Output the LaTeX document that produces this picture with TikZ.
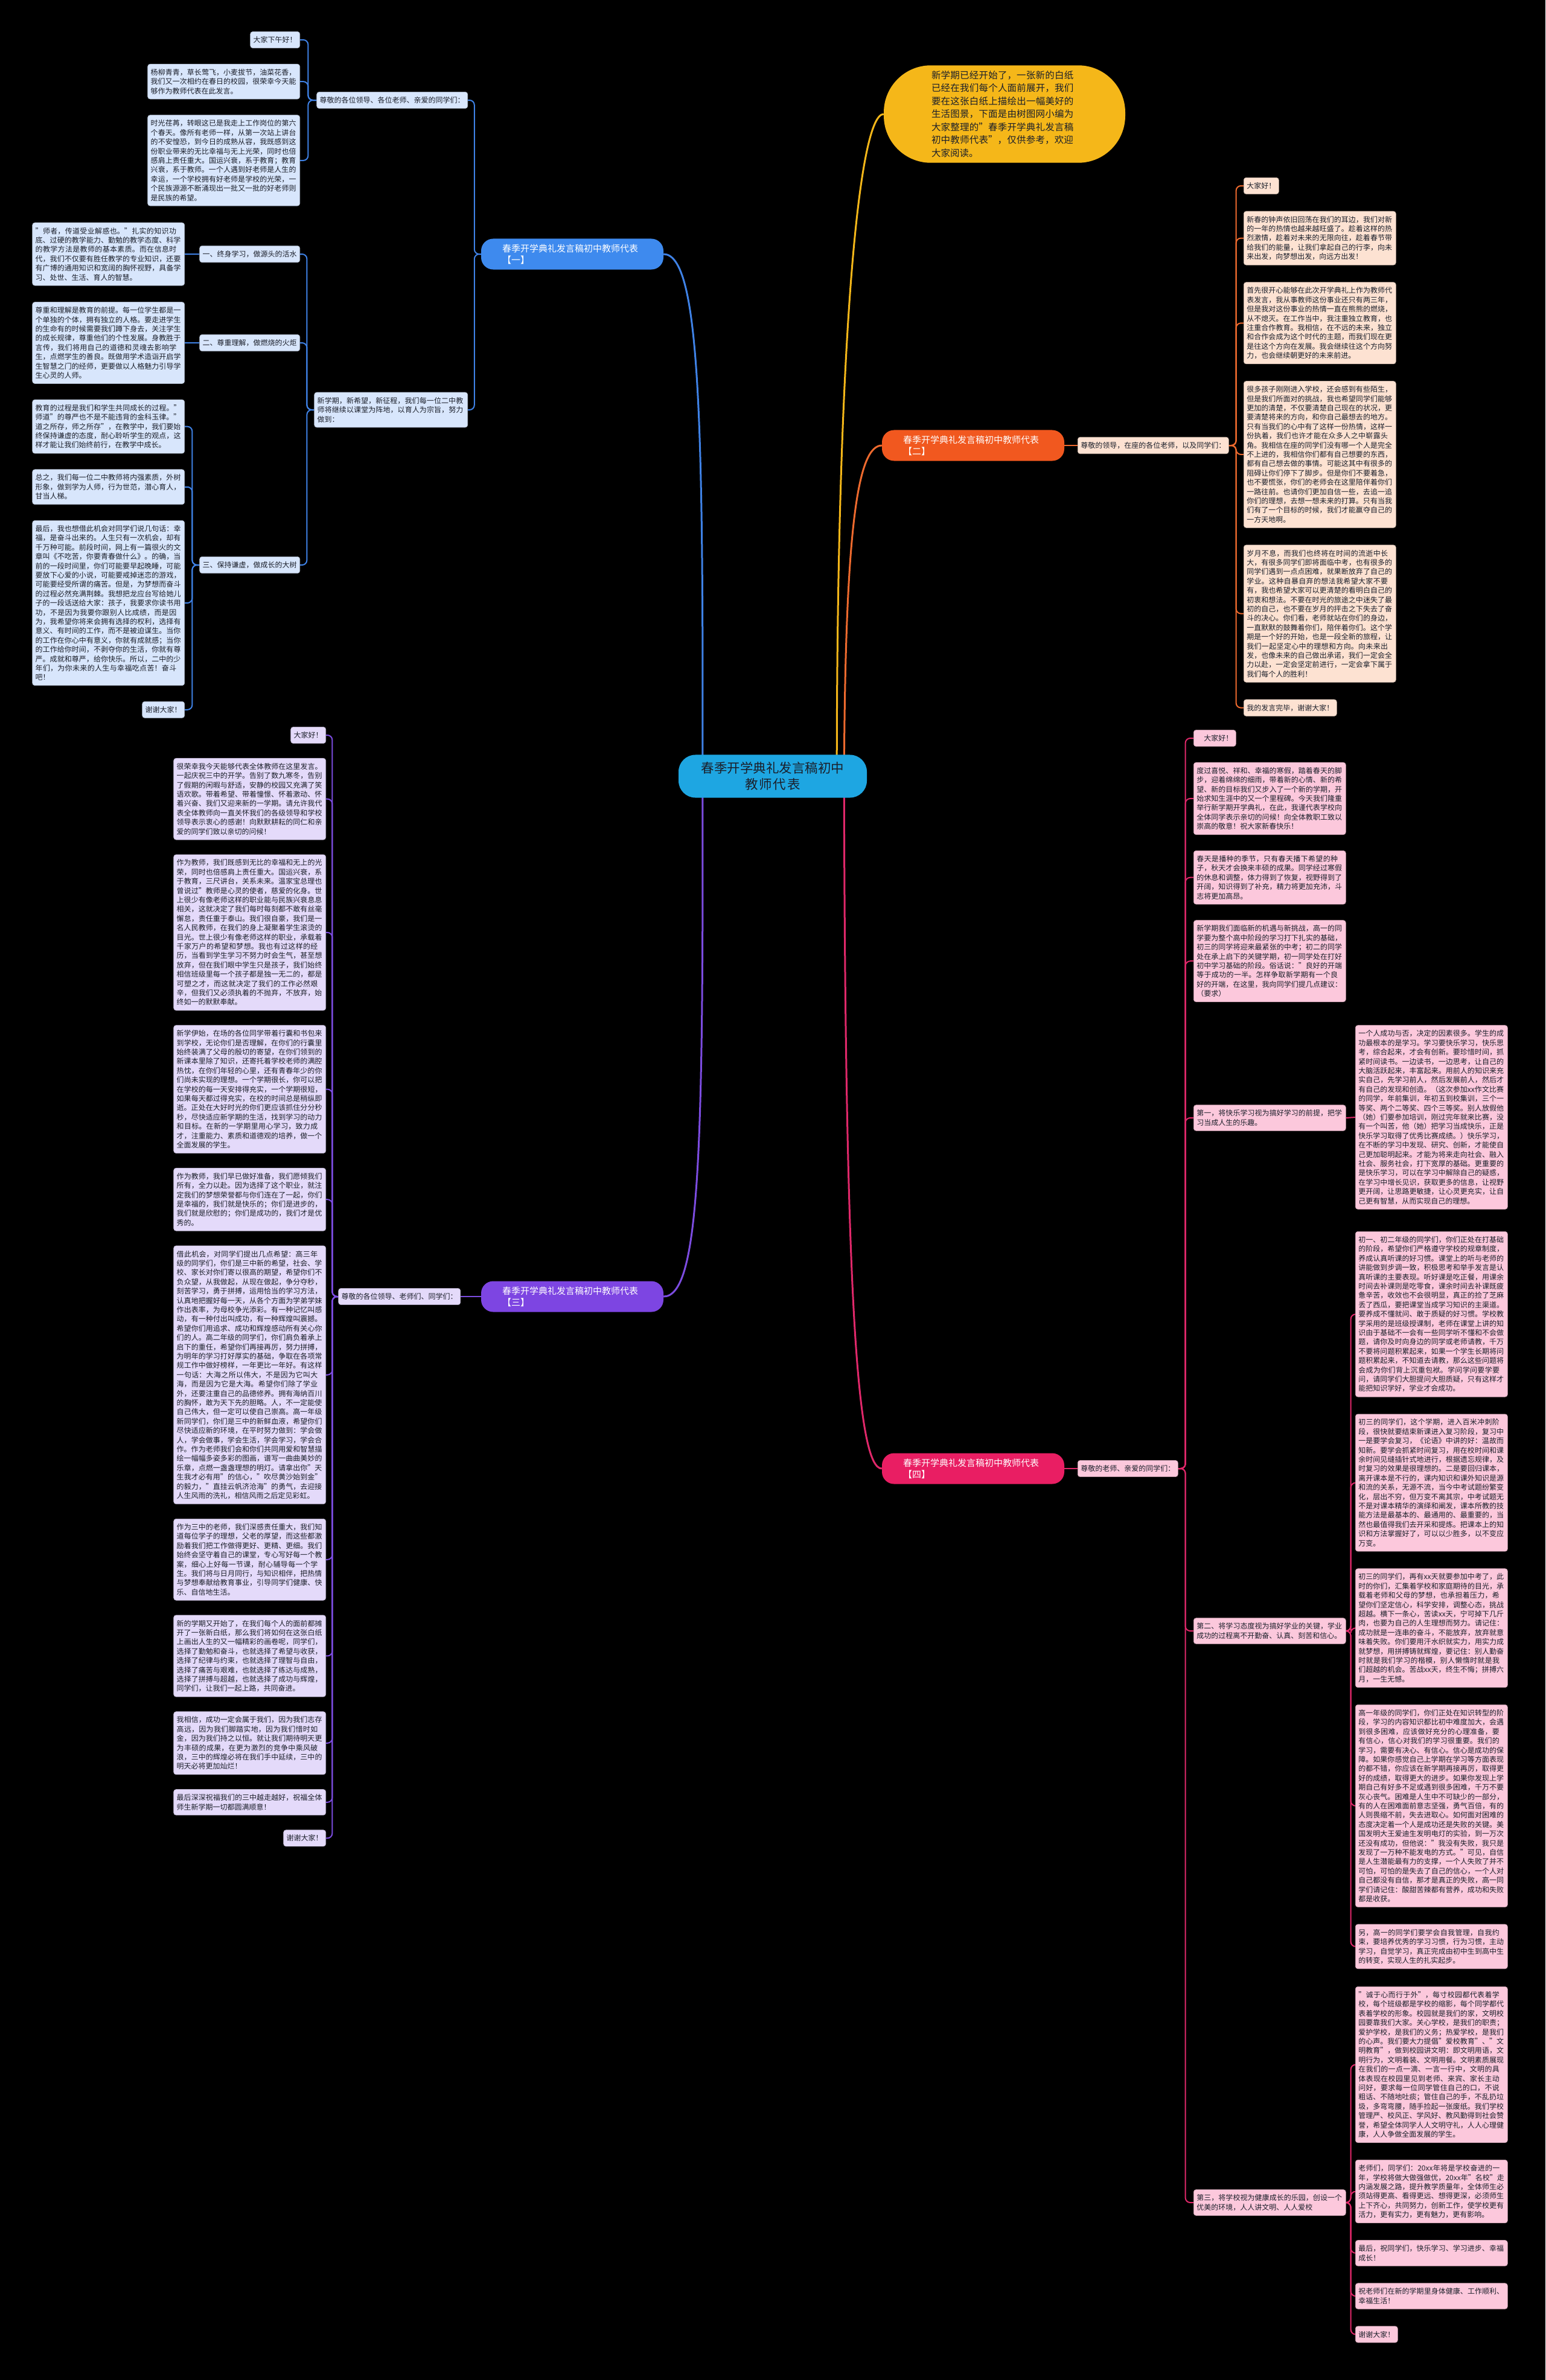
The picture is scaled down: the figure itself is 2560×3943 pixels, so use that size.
\documentclass[tikz,border=0pt]{standalone}
\usepackage{fontspec}
\setmainfont{Noto Sans CJK SC}
\XeTeXlinebreaklocale "zh"
\XeTeXlinebreakskip=0pt plus 1pt
\usetikzlibrary{positioning,calc,backgrounds}
\definecolor{hubCyan}{HTML}{1EA6E2}
\definecolor{sunGold}{HTML}{F5B719}
\definecolor{inkDark}{HTML}{1B1F2A}
\definecolor{blueMain}{HTML}{3E8AEE}
\definecolor{blueLine}{HTML}{3F82E6}
\definecolor{blueCard}{HTML}{D8E6FC}
\definecolor{orangeMain}{HTML}{F1581F}
\definecolor{orangeLine}{HTML}{EE6A2E}
\definecolor{orangeCard}{HTML}{FDE2D2}
\definecolor{purpleMain}{HTML}{7D45E2}
\definecolor{purpleLine}{HTML}{7C4CE0}
\definecolor{purpleCard}{HTML}{E4DAFA}
\definecolor{pinkMain}{HTML}{E91E63}
\definecolor{pinkLine}{HTML}{E0286A}
\definecolor{pinkCard}{HTML}{FCC8DC}

\begin{document}
\begin{tikzpicture}[
    x=1pt, y=-1pt,
    hub/.style={rectangle,rounded corners=28pt,fill=hubCyan,text=inkDark,align=center,
        text width=240pt,inner xsep=36pt,inner ysep=12pt,font=\fontsize{21.5}{27}\selectfont},
    intro/.style={rectangle,rounded corners=78pt,fill=sunGold,text=inkDark,align=left,
        text width=242pt,inner xsep=79pt,inner ysep=9pt,font=\fontsize{15.5}{21.5}\selectfont},
    topic/.style={rectangle,rounded corners=20pt,text=white,align=left,
        text width=232pt,inner xsep=35pt,inner ysep=9pt,font=\fontsize{15}{19}\selectfont},
    card/.style={rectangle,rounded corners=4pt,text=inkDark,align=left,line width=0.6pt,
        inner xsep=5pt,inner ysep=8pt,font=\fontsize{12}{15.4}\selectfont},
    para/.style={card,text width=242pt},
    bluecard/.style={fill=blueCard,draw=blueCard!80!black},
    orangecard/.style={fill=orangeCard,draw=orangeCard!80!black},
    purplecard/.style={fill=purpleCard,draw=purpleCard!80!black},
    pinkcard/.style={fill=pinkCard,draw=pinkCard!80!black},
    branch/.style={line width=3pt},
    link/.style={line width=2pt,rounded corners=8pt}
]
\useasboundingbox (0,0) rectangle (2560,3943);

% centre and intro
\node[hub] (hub) at (1280,1286) {春季开学典礼发言稿初中\\教师代表};
\node[intro] (intro) at (1664,189) {新学期已经开始了，一张新的白纸已经在我们每个人面前展开，我们要在这张白纸上描绘出一幅美好的生活图景，下面是由树图网小编为大家整理的"春季开学典礼发言稿初中教师代表"，仅供参考，欢迎大家阅读。};

% Branch one
\node[topic,fill=blueMain] (t1) at (948,421) {春季开学典礼发言稿初中教师代表\\【一】};
\node[card,bluecard,anchor=east] (a1) at (775,166) {尊敬的各位领导、各位老师、亲爱的同学们：};
\node[card,bluecard,anchor=east] (hi1) at (497,66) {大家下午好！};
\node[para,bluecard,below=26pt of hi1.south east,anchor=north east] (p11) {杨柳青青，草长莺飞，小麦拔节，油菜花香，我们又一次相约在春日的校园，很荣幸今天能够作为教师代表在此发言。};
\node[para,bluecard,below=26pt of p11.south east,anchor=north east] (p12) {时光荏苒，转眼这已是我走上工作岗位的第六个春天。像所有老师一样，从第一次站上讲台的不安惶恐，到今日的成熟从容，我既感到这份职业带来的无比幸福与无上光荣，同时也倍感肩上责任重大。国运兴衰，系于教育；教育兴衰，系于教师。一个人遇到好老师是人生的幸运，一个学校拥有好老师是学校的光荣，一个民族源源不断涌现出一批又一批的好老师则是民族的希望。};
\node[card,bluecard,anchor=east,text width=244pt] (a2) at (775,679) {新学期，新希望，新征程，我们每一位二中教师将继续以课堂为阵地，以育人为宗旨，努力做到：};
\node[card,bluecard,anchor=east] (s1) at (497,421) {一、终身学习，做源头的活水};
\node[card,bluecard,anchor=east] (s2) at (497,568) {二、尊重理解，做燃烧的火炬};
\node[card,bluecard,anchor=east] (s3) at (497,936) {三、保持谦虚，做成长的大树};
\node[para,bluecard,anchor=east] (p13) at (306,421) {"师者，传道受业解惑也。"扎实的知识功底、过硬的教学能力、勤勉的教学态度、科学的教学方法是教师的基本素质。而在信息时代，我们不仅要有胜任教学的专业知识，还要有广博的通用知识和宽阔的胸怀视野，具备学习、处世、生活、育人的智慧。};
\node[para,bluecard,anchor=east] (p14) at (306,568) {尊重和理解是教育的前提。每一位学生都是一个单独的个体，拥有独立的人格。要走进学生的生命有的时候需要我们蹲下身去，关注学生的成长规律，尊重他们的个性发展。身教胜于言传，我们将用自己的道德和灵魂去影响学生，点燃学生的善良。既做用学术造诣开启学生智慧之门的经师，更要做以人格魅力引导学生心灵的人师。};
\node[para,bluecard,below=26pt of p14.south east,anchor=north east] (p15) {教育的过程是我们和学生共同成长的过程。"师道"的尊严也不是不能违背的金科玉律。"道之所存，师之所存"，在教学中，我们要始终保持谦虚的态度，耐心聆听学生的观点，这样才能让我们始终前行，在教学中成长。};
\node[para,bluecard,below=26pt of p15.south east,anchor=north east] (p16) {总之，我们每一位二中教师将内强素质，外树形象，做到学为人师，行为世范，潜心育人，甘当人梯。};
\node[para,bluecard,below=26pt of p16.south east,anchor=north east] (p17) {最后，我也想借此机会对同学们说几句话：幸福，是奋斗出来的。人生只有一次机会，却有千万种可能。前段时间，网上有一篇很火的文章叫《不吃苦，你要青春做什么》。的确，当前的一段时间里，你们可能要早起晚睡，可能要放下心爱的小说，可能要戒掉迷恋的游戏，可能要经受所谓的痛苦。但是，为梦想而奋斗的过程必然充满荆棘。我想把龙应台写给她儿子的一段话送给大家：孩子，我要求你读书用功，不是因为我要你跟别人比成绩，而是因为，我希望你将来会拥有选择的权利，选择有意义、有时间的工作，而不是被迫谋生。当你的工作在你心中有意义，你就有成就感；当你的工作给你时间，不剥夺你的生活，你就有尊严。成就和尊严，给你快乐。所以，二中的少年们，为你未来的人生与幸福吃点苦！奋斗吧！};
\node[card,bluecard,below=26pt of p17.south east,anchor=north east] (bye1) {谢谢大家！};

% Branch two
\node[topic,fill=orangeMain] (t2) at (1612,738) {春季开学典礼发言稿初中教师代表\\【二】};
\node[card,orangecard,anchor=west] (q1) at (1785,738) {尊敬的领导，在座的各位老师，以及同学们：};
\node[card,orangecard,anchor=north west] (hi2) at (2060,294) {大家好！};
\node[para,orangecard,below=28pt of hi2.south west,anchor=north west] (p21) {新春的钟声依旧回荡在我们的耳边，我们对新的一年的热情也越来越旺盛了。趁着这样的热烈激情，趁着对未来的无限向往，趁着春节带给我们的能量，让我们拿起自己的行李，向未来出发，向梦想出发，向远方出发！};
\node[para,orangecard,below=28pt of p21.south west,anchor=north west] (p22) {首先很开心能够在此次开学典礼上作为教师代表发言，我从事教师这份事业还只有两三年，但是我对这份事业的热情一直在熊熊的燃烧，从不熄灭。在工作当中，我注重独立教育，也注重合作教育。我相信，在不远的未来，独立和合作会成为这个时代的主题，而我们现在更是往这个方向在发展。我会继续往这个方向努力，也会继续朝更好的未来前进。};
\node[para,orangecard,below=28pt of p22.south west,anchor=north west] (p23) {很多孩子刚刚进入学校，还会感到有些陌生，但是我们所面对的挑战，我也希望同学们能够更加的清楚，不仅要清楚自己现在的状况，更要清楚将来的方向，和你自己最想去的地方。只有当我们的心中有了这样一份热情，这样一份执着，我们也许才能在众多人之中崭露头角。我相信在座的同学们没有哪一个人是完全不上进的，我相信你们都有自己想要的东西，都有自己想去做的事情。可能这其中有很多的阻碍让你们停下了脚步。但是你们不要着急，也不要慌张，你们的老师会在这里陪伴着你们一路往前。也请你们更加自信一些，去追一追你们的理想，去想一想未来的打算。只有当我们有了一个目标的时候，我们才能赢夺自己的一方天地啊。};
\node[para,orangecard,below=28pt of p23.south west,anchor=north west] (p24) {岁月不息，而我们也终将在时间的流逝中长大，有很多同学们即将面临中考，也有很多的同学们遇到一点点困难，就果断放弃了自己的学业。这种自暴自弃的想法我希望大家不要有，我也希望大家可以更清楚的看明白自己的初衷和想法。不要在时光的旅途之中迷失了最初的自己，也不要在岁月的抨击之下失去了奋斗的决心。你们看，老师就站在你们的身边，一直默默的鼓舞着你们，陪伴着你们。这个学期是一个好的开始，也是一段全新的旅程，让我们一起坚定心中的理想和方向。向未来出发，也像未来的自己做出承诺，我们一定会全力以赴，一定会坚定前进行，一定会拿下属于我们每个人的胜利！};
\node[card,orangecard,below=28pt of p24.south west,anchor=north west] (bye2) {我的发言完毕，谢谢大家！};

% Branch three
\node[topic,fill=purpleMain] (t3) at (948,2148) {春季开学典礼发言稿初中教师代表\\【三】};
\node[card,purplecard,anchor=east] (c1) at (763,2148) {尊敬的各位领导、老师们、同学们：};
\node[card,purplecard,anchor=east] (hi3) at (540,1218) {大家好！};
\node[para,purplecard,below=24pt of hi3.south east,anchor=north east] (p31) {很荣幸我今天能够代表全体教师在这里发言。一起庆祝三中的开学。告别了数九寒冬，告别了假期的闲暇与舒适，安静的校园又充满了笑语欢歌。带着希望、带着憧憬、怀着激动、怀着兴奋、我们又迎来新的一学期。请允许我代表全体教师向一直关怀我们的各级领导和学校领导表示衷心的感谢！向默默耕耘的同仁和亲爱的同学们致以亲切的问候！};
\node[para,purplecard,below=24pt of p31.south east,anchor=north east] (p32) {作为教师，我们既感到无比的幸福和无上的光荣，同时也倍感肩上责任重大。国运兴衰，系于教育，三尺讲台，关系未来。温家宝总理也曾说过"教师是心灵的使者，慈爱的化身。世上很少有像老师这样的职业能与民族兴衰息息相关，这就决定了我们每时每刻都不敢有丝毫懈怠，责任重于泰山。我们很自豪，我们是一名人民教师，在我们的身上凝聚着学生滚烫的目光。世上很少有像老师这样的职业，承载着千家万户的希望和梦想。我也有过这样的经历，当看到学生学习不努力时会生气，甚至想放弃，但在我们眼中学生只是孩子，我们始终相信班级里每一个孩子都是独一无二的，都是可塑之才，而这就决定了我们的工作必然艰辛，但我们又必须执着的不抛弃，不放弃，始终如一的默默奉献。};
\node[para,purplecard,below=24pt of p32.south east,anchor=north east] (p33) {新学伊始，在场的各位同学带着行囊和书包来到学校，无论你们是否理解，在你们的行囊里始终装满了父母的殷切的寄望，在你们领到的新课本里除了知识，还寄托着学校老师的满腔热忱，在你们年轻的心里，还有青春年少的你们尚未实现的理想。一个学期很长，你可以把在学校的每一天安排得充实，一个学期很短，如果每天都过得充实，在校的时间总是稍纵即逝。正处在大好时光的你们更应该抓住分分秒秒，尽快适应新学期的生活，找到学习的动力和目标。在新的一学期里用心学习，致力成才，注重能力、素质和道德观的培养，做一个全面发展的学生。};
\node[para,purplecard,below=24pt of p33.south east,anchor=north east] (p34) {作为教师，我们早已做好准备，我们愿倾我们所有，全力以赴。因为选择了这个职业，就注定我们的梦想荣誉都与你们连在了一起，你们是幸福的，我们就是快乐的；你们是进步的，我们就是欣慰的；你们是成功的，我们才是优秀的。};
\node[para,purplecard,below=24pt of p34.south east,anchor=north east] (p35) {借此机会，对同学们提出几点希望：高三年级的同学们，你们是三中新的希望，社会、学校、家长对你们寄以很高的期望，希望你们不负众望，从我做起，从现在做起，争分夺秒，刻苦学习，勇于拼搏，运用恰当的学习方法，认真地把握好每一天，从各个方面为学弟学妹作出表率，为母校争光添彩。有一种记忆叫感动，有一种付出叫成功，有一种辉煌叫震撼。希望你们用追求、成功和辉煌感动所有关心你们的人。高二年级的同学们，你们肩负着承上启下的重任，希望你们再接再厉，努力拼搏，为明年的学习打好厚实的基础，争取在各项常规工作中做好榜样，一年更比一年好。有这样一句话：大海之所以伟大，不是因为它叫大海，而是因为它是大海。希望你们除了学业外，还要注重自己的品德修养。拥有海纳百川的胸怀，敢为天下先的胆略。人，不一定能使自己伟大，但一定可以使自己崇高。高一年级新同学们，你们是三中的新鲜血液，希望你们尽快适应新的环境，在平时努力做到：学会做人，学会做事，学会生活，学会学习，学会合作。作为老师我们会和你们共同用爱和智慧描绘一幅幅多姿多彩的图画，谱写一曲曲美妙的乐章，点燃一盏盏理想的明灯。请拿出你"天生我才必有用"的信心，"吹尽黄沙始到金"的毅力，"直挂云帆济沧海"的勇气，去迎接人生风雨的洗礼，相信风雨之后定见彩虹。};
\node[para,purplecard,below=24pt of p35.south east,anchor=north east] (p36) {作为三中的老师，我们深感责任重大，我们知道每位学子的理想，父老的厚望，而这些都激励着我们把工作做得更好、更精、更细。我们始终会坚守着自己的课堂，专心写好每一个教案，细心上好每一节课，耐心辅导每一个学生。我们将与日月同行，与知识相伴，把热情与梦想奉献给教育事业，引导同学们健康、快乐、自信地生活。};
\node[para,purplecard,below=24pt of p36.south east,anchor=north east] (p37) {新的学期又开始了，在我们每个人的面前都摊开了一张新白纸，那么我们将如何在这张白纸上画出人生的又一幅精彩的画卷呢，同学们，选择了勤勉和奋斗，也就选择了希望与收获，选择了纪律与约束，也就选择了理智与自由，选择了痛苦与艰难，也就选择了练达与成熟，选择了拼搏与超越，也就选择了成功与辉煌，同学们，让我们一起上路，共同奋进。};
\node[para,purplecard,below=24pt of p37.south east,anchor=north east] (p38) {我相信，成功一定会属于我们，因为我们志存高远，因为我们脚踏实地，因为我们惜时如金，因为我们持之以恒。就让我们期待明天更为丰硕的成果，在更为激烈的竞争中乘风破浪，三中的辉煌必将在我们手中延续，三中的明天必将更加灿烂！};
\node[para,purplecard,below=24pt of p38.south east,anchor=north east] (p39) {最后深深祝福我们的三中越走越好，祝福全体师生新学期一切都圆满顺意！};
\node[card,purplecard,below=24pt of p39.south east,anchor=north east] (bye3) {谢谢大家！};

% Branch four
\node[topic,fill=pinkMain] (t4) at (1612,2433) {春季开学典礼发言稿初中教师代表\\【四】};
\node[card,pinkcard,anchor=west] (d1) at (1785,2433) {尊敬的老师、亲爱的同学们：};
\node[card,pinkcard,anchor=west] (hi4) at (1977,1223) {　大家好！};
\node[para,pinkcard,below=26pt of hi4.south west,anchor=north west] (p41) {度过喜悦、祥和、幸福的寒假，踏着春天的脚步，迎着绵绵的细雨，带着新的心情、新的希望、新的目标我们又步入了一个新的学期，开始求知生涯中的又一个里程碑。今天我们隆重举行新学期开学典礼，在此，我谨代表学校向全体同学表示亲切的问候！向全体教职工致以崇高的敬意！祝大家新春快乐！};
\node[para,pinkcard,below=26pt of p41.south west,anchor=north west] (p42) {春天是播种的季节，只有春天播下希望的种子，秋天才会换来丰硕的成果。同学经过寒假的休息和调整，体力得到了恢复，视野得到了开阔，知识得到了补充，精力将更加充沛，斗志将更加高昂。};
\node[para,pinkcard,below=26pt of p42.south west,anchor=north west] (p43) {新学期我们面临新的机遇与新挑战，高一的同学要为整个高中阶段的学习打下扎实的基础，初三的同学将迎来最紧张的中考；初二的同学处在承上启下的关键学期，初一同学处在打好初中学习基础的阶段。俗话说："良好的开端等于成功的一半。怎样争取新学期有一个良好的开端，在这里，我向同学们提几点建议：（要求）};
\node[para,pinkcard,anchor=west] (f1) at (1977,1852) {第一，将快乐学习视为搞好学习的前提，把学习当成人生的乐趣。};
\node[para,pinkcard,anchor=west] (p44) at (2245,1851) {一个人成功与否，决定的因素很多。学生的成功最根本的是学习。学习要快乐学习，快乐思考，综合起来，才会有创新。要珍惜时间，抓紧时间读书。一边读书，一边思考，让自己的大脑活跃起来，丰富起来。用前人的知识来充实自己，先学习前人，然后发展前人，然后才有自己的发现和创造。（这次参加xx作文比赛的同学，年前集训，年初五到校集训，三个一等奖、两个二等奖、四个三等奖。别人放假他（她）们要参加培训，刚过完年就来比赛，没有一个叫苦，他（她）把学习当成快乐，正是快乐学习取得了优秀比赛成绩。）快乐学习，在不断的学习中发现、研究、创新，才能使自己更加聪明起来。才能为将来走向社会、融入社会、服务社会，打下宽厚的基础。更重要的是快乐学习，可以在学习中解除自己的疑惑，在学习中增长见识，获取更多的信息，让视野更开阔，让思路更敏捷，让心灵更充实，让自己更有智慧，从而实现自己的理想。};
\node[para,pinkcard,anchor=west] (f2) at (1977,2702) {第二、将学习态度视为搞好学业的关键，学业成功的过程离不开勤奋、认真、刻苦和信心。};
\node[para,pinkcard,anchor=north west] (p45) at (2245,2040) {初一、初二年级的同学们，你们正处在打基础的阶段，希望你们严格遵守学校的规章制度，养成认真听课的好习惯。课堂上的听与老师的讲能做到步调一致，积极思考和举手发言是认真听课的主要表现。听好课是吃正餐，用课余时间去补课则是吃零食，课余时间去补课既疲惫辛苦，收效也不会很明显，真正的捡了芝麻丢了西瓜，要把课堂当成学习知识的主渠道。要养成不懂就问、敢于质疑的好习惯。学校教学采用的是班级授课制，老师在课堂上讲的知识由于基础不一会有一些同学听不懂和不会做题，请你及时向身边的同学或老师请教，千万不要将问题积累起来，如果一个学生长期将问题积累起来，不知道去请教，那么这些问题将会成为你们背上沉重包袱。学问学问要学要问，请同学们大胆提问大胆质疑，只有这样才能把知识学好，学业才会成功。};
\node[para,pinkcard,below=28pt of p45.south west,anchor=north west] (p46) {初三的同学们，这个学期，进入百米冲刺阶段，很快就要结束新课进入复习阶段，复习中一是要学会复习，《论语》中讲的好：温故而知新。要学会抓紧时间复习，用在校时间和课余时间见缝插针式地进行，根据遗忘规律，及时复习的效果是很理想的。二是要回归课本，离开课本是不行的，课内知识和课外知识是源和流的关系，无源不流，当今中考试题纷繁变化，层出不穷，但万变不离其宗，中考试题无不是对课本精华的演绎和阐发，课本所教的技能方法是最基本的、最通用的、最重要的，当然也最值得我们去开采和提炼。把课本上的知识和方法掌握好了，可以以少胜多，以不变应万变。};
\node[para,pinkcard,below=28pt of p46.south west,anchor=north west] (p47) {初三的同学们，再有xx天就要参加中考了，此时的你们，汇集着学校和家庭期待的目光，承载着老师和父母的梦想，也承担着压力，希望你们坚定信心，科学安排，调整心态，挑战超越。横下一条心，苦读xx天，宁可掉下几斤肉，也要为自己的人生理想而努力。请记住：成功就是一连串的奋斗，不能放弃，放弃就意味着失败。你们要用汗水织就实力，用实力成就梦想，用拼搏铸就辉煌，要记住：别人勤奋时就是我们学习的楷模，别人懒惰时就是我们超越的机会。苦战xx天，终生不悔；拼搏六月，一生无憾。};
\node[para,pinkcard,below=28pt of p47.south west,anchor=north west] (p48) {高一年级的同学们，你们正处在知识转型的阶段，学习的内容知识都比初中难度加大，会遇到很多困难，应该做好充分的心理准备，要有信心，信心对我们的学习很重要。我们的学习，需要有决心、有信心。信心是成功的保障。如果你感觉自己上学期在学习等方面表现的都不错，你应该在新学期再接再厉，取得更好的成绩，取得更大的进步。如果你发现上学期自己有好多不足或遇到很多困难，千万不要灰心丧气。困难是人生中不可缺少的一部分，有的人在困难面前意志坚强，勇气百倍，有的人则畏缩不前，失去进取心。如何面对困难的态度决定着一个人是成功还是失败的关键。美国发明大王爱迪生发明电灯的实验，到一万次还没有成功，但他说："我没有失败，我只是发现了一万种不能发电的方式。"可见，自信是人生潜能最有力的支撑，一个人失败了并不可怕，可怕的是失去了自己的信心，一个人对自己都没有自信，那才是真正的失败，高一同学们请记住：酸甜苦辣都有营养，成功和失败都是收获。};
\node[para,pinkcard,below=28pt of p48.south west,anchor=north west] (p49) {另，高一的同学们要学会自我管理，自我约束，要培养优秀的学习习惯，行为习惯，主动学习，自觉学习，真正完成由初中生到高中生的转变，实现人生的扎实起步。};
\node[para,pinkcard,anchor=west] (f3) at (1977,3649) {第三，将学校视为健康成长的乐园，创设一个优美的环境，人人讲文明、人人爱校};
\node[para,pinkcard,anchor=north west] (p4a) at (2245,3291) {"诚于心而行于外"，每寸校园都代表着学校，每个班级都是学校的缩影，每个同学都代表着学校的形象。校园就是我们的家，文明校园要靠我们大家。关心学校，是我们的职责；爱护学校，是我们的义务；热爱学校，是我们的心声。我们要大力提倡"爱校教育"、"文明教育"，做到校园讲文明：即文明用语，文明行为，文明着装、文明用餐。文明素质展现在我们的一点一滴、一言一行中，文明的具体表现在校园里见到老师、来宾、家长主动问好，要求每一位同学管住自己的口，不说粗话、不随地吐痰；管住自己的手，不乱扔垃圾，多弯弯腰，随手捡起一张废纸。我们学校管理严、校风正、学风好、教风勤得到社会赞誉，希望全体同学人人文明守礼，人人心理健康，人人争做全面发展的学生。};
\node[para,pinkcard,below=28pt of p4a.south west,anchor=north west] (p4b) {老师们，同学们：20xx年将是学校奋进的一年，学校将做大做强做优，20xx年"名校"走内涵发展之路，提升教学质量年，全体师生必须站得更高、看得更远、想得更深，必须师生上下齐心，共同努力，创新工作，使学校更有活力，更有实力，更有魅力，更有影响。};
\node[para,pinkcard,below=28pt of p4b.south west,anchor=north west] (p4c) {最后，祝同学们，快乐学习、学习进步、幸福成长！};
\node[para,pinkcard,below=28pt of p4c.south west,anchor=north west] (p4d) {祝老师们在新的学期里身体健康、工作顺利、幸福生活！};
\node[card,pinkcard,below=28pt of p4d.south west,anchor=north west] (bye4) {谢谢大家！};

% connectors behind the nodes
\begin{scope}[on background layer]
\fill[black] (0,0) rectangle (2560,3943);
\draw[branch,sunGold] ($(hub.east)+(-50,0)$) .. controls (1386,600) and (1420,189) .. (intro.west);
\draw[branch,blueLine] ($(hub.west)+(40,0)$) .. controls (1165,700) and (1160,421) .. (t1.east);
\draw[branch,orangeLine] ($(hub.east)+(-38,0)$) .. controls (1400,880) and (1420,738) .. (t2.west);
\draw[branch,purpleLine] ($(hub.west)+(40,0)$) .. controls (1165,1900) and (1160,2148) .. (t3.east);
\draw[branch,pinkLine] ($(hub.east)+(-38,0)$) .. controls (1400,2150) and (1420,2433) .. (t4.west);

\draw[link,blueLine] (t1.west) -- ++(-11,0) |- (a1.east);
\draw[link,blueLine] (t1.west) -- ++(-11,0) |- (a2.east);
\draw[link,blueLine] (a1.west) -- ++(-14,0) |- (hi1.east);
\draw[link,blueLine] (a1.west) -- ++(-14,0) |- (p11.east);
\draw[link,blueLine] (a1.west) -- ++(-14,0) |- (p12.east);
\draw[link,blueLine] (a2.west) -- ++(-12,0) |- (s1.east);
\draw[link,blueLine] (a2.west) -- ++(-12,0) |- (s2.east);
\draw[link,blueLine] (a2.west) -- ++(-12,0) |- (s3.east);
\draw[link,blueLine] (s1.west) -- (p13.east);
\draw[link,blueLine] (s2.west) -- (p14.east);
\draw[link,blueLine] (s3.west) -- ++(-12,0) |- (p15.east);
\draw[link,blueLine] (s3.west) -- ++(-12,0) |- (p16.east);
\draw[link,blueLine] (s3.west) -- ++(-12,0) |- (p17.east);
\draw[link,blueLine] (s3.west) -- ++(-12,0) |- (bye1.east);

\draw[link,orangeLine] (t2.east) -- (q1.west);
\draw[link,orangeLine] (q1.east) -- ++(12,0) |- (hi2.west);
\draw[link,orangeLine] (q1.east) -- ++(12,0) |- (p21.west);
\draw[link,orangeLine] (q1.east) -- ++(12,0) |- (p22.west);
\draw[link,orangeLine] (q1.east) -- ++(12,0) |- (p23.west);
\draw[link,orangeLine] (q1.east) -- ++(12,0) |- (p24.west);
\draw[link,orangeLine] (q1.east) -- ++(12,0) |- (bye2.west);

\draw[link,purpleLine] (t3.west) -- (c1.east);
\draw[link,purpleLine] (c1.west) -- ++(-10,0) |- (hi3.east);
\draw[link,purpleLine] (c1.west) -- ++(-10,0) |- (p31.east);
\draw[link,purpleLine] (c1.west) -- ++(-10,0) |- (p32.east);
\draw[link,purpleLine] (c1.west) -- ++(-10,0) |- (p33.east);
\draw[link,purpleLine] (c1.west) -- ++(-10,0) |- (p34.east);
\draw[link,purpleLine] (c1.west) -- ++(-10,0) |- (p35.east);
\draw[link,purpleLine] (c1.west) -- ++(-10,0) |- (p36.east);
\draw[link,purpleLine] (c1.west) -- ++(-10,0) |- (p37.east);
\draw[link,purpleLine] (c1.west) -- ++(-10,0) |- (p38.east);
\draw[link,purpleLine] (c1.west) -- ++(-10,0) |- (p39.east);
\draw[link,purpleLine] (c1.west) -- ++(-10,0) |- (bye3.east);

\draw[link,pinkLine] (t4.east) -- (d1.west);
\draw[link,pinkLine] (d1.east) -- ++(12,0) |- (hi4.west);
\draw[link,pinkLine] (d1.east) -- ++(12,0) |- (p41.west);
\draw[link,pinkLine] (d1.east) -- ++(12,0) |- (p42.west);
\draw[link,pinkLine] (d1.east) -- ++(12,0) |- (p43.west);
\draw[link,pinkLine] (d1.east) -- ++(12,0) |- (f1.west);
\draw[link,pinkLine] (d1.east) -- ++(12,0) |- (f2.west);
\draw[link,pinkLine] (d1.east) -- ++(12,0) |- (f3.west);
\draw[link,pinkLine] (f1.east) -- (p44.west);
\draw[link,pinkLine] (f2.east) -- ++(8,0) |- (p45.west);
\draw[link,pinkLine] (f2.east) -- ++(8,0) |- (p46.west);
\draw[link,pinkLine] (f2.east) -- ++(8,0) |- (p47.west);
\draw[link,pinkLine] (f2.east) -- ++(8,0) |- (p48.west);
\draw[link,pinkLine] (f2.east) -- ++(8,0) |- (p49.west);
\draw[link,pinkLine] (f3.east) -- ++(8,0) |- (p4a.west);
\draw[link,pinkLine] (f3.east) -- ++(8,0) |- (p4b.west);
\draw[link,pinkLine] (f3.east) -- ++(8,0) |- (p4c.west);
\draw[link,pinkLine] (f3.east) -- ++(8,0) |- (p4d.west);
\draw[link,pinkLine] (f3.east) -- ++(8,0) |- (bye4.west);
\end{scope}
\end{tikzpicture}
\end{document}
